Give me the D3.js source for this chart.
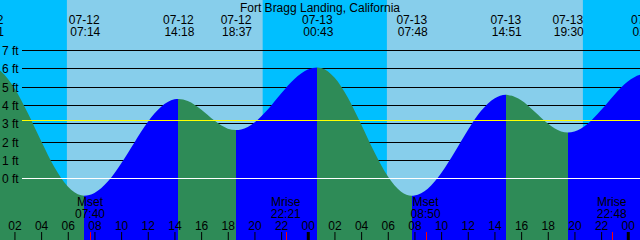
<!DOCTYPE html>
<html>
<head>
<meta charset="utf-8">
<script src="https://cdn.jsdelivr.net/npm/d3@7"></script>
<style>
body { margin: 0; overflow: hidden; background: #fff; }
svg { display: block; }
</style>
</head>
<body>
<svg id="chart"></svg>
<script>
let width = 640;
let height = 240;

// what the graph shows
let station = "Fort Bragg Landing, California";
let windowStart = "2024-07-12 00:55";
let windowEnd = "2024-07-14 00:55";

// highs and lows (ft)
let eventTimes = ["2024-07-12 00:01", "2024-07-12 07:14", "2024-07-12 14:18", "2024-07-12 18:37",
                  "2024-07-13 00:43", "2024-07-13 07:48", "2024-07-13 14:51", "2024-07-13 19:30",
                  "2024-07-14 01:24"];
let eventFeet = [6.15, -0.95, 4.33, 2.63, 6.05, -0.95, 4.56, 2.5, 5.7];

// water level every hour, from 07-12 01:00
let sampleStart = "2024-07-12 01:00";
let sampleFeet = [5.83, 4.91, 3.56, 2.03, 0.60, -0.45, -0.93, -0.80, -0.18, 0.81,
                  1.96, 3.07, 3.90, 4.31, 4.22, 3.76, 3.15, 2.71, 2.66, 3.05,
                  3.76, 4.63, 5.42, 5.94, 6.02, 5.50, 4.41, 2.95, 1.42, 0.11,
                  -0.73, -0.94, -0.57, 0.27, 1.41, 2.62, 3.68, 4.36, 4.55, 4.26,
                  3.65, 2.99, 2.56, 2.56, 2.98, 3.72, 4.56, 5.28, 5.66];

// sun and moon
let sunTimes = ["2024-07-12 05:56", "2024-07-12 20:37", "2024-07-13 05:56", "2024-07-13 20:38"];
let sunKinds = ["rise", "set", "rise", "set"];
let moonTimes = ["2024-07-12 07:40", "2024-07-12 22:21", "2024-07-13 08:50", "2024-07-13 22:48"];
let moonKinds = ["Mset", "Mrise", "Mset", "Mrise"];

// depth grid (ft) and mean sea level
let depthTicks = [0, 1, 2, 3, 4, 5, 6, 7];
let msl = 3.16;

let dayColor = "#87ceeb", nightColor = "#00bfff";
let floodColor = "#0000ff", ebbColor = "#2e8b57";
let datumColor = "#ffffff", mslColor = "#ffff00", markColor = "#ff0000";
let font = "'Liberation Sans', Arial, sans-serif";

let parse = d3.timeParse("%Y-%m-%d %H:%M");

let x = d3.scaleTime()
    .domain([parse(windowStart), parse(windowEnd)])
    .range([0, width]);
let y = d3.scaleLinear()
    .domain([0, 7])
    .range([178.3, 50]);

function crisp(v) {
    return Math.round(v) + 0.5;
}

let svg = d3.select("#chart")
    .attr("width", width)
    .attr("height", height)
    .style("font-family", font)
    .style("font-size", "12px");

// sky: day everywhere, then the nights on top
svg.append("rect")
    .attr("width", width)
    .attr("height", height)
    .attr("fill", dayColor);

let nights = [];
let nightFrom = x.domain()[0];
let lastKind = null;
for (let i = 0; i < sunTimes.length; i = i + 1) {
    let t = parse(sunTimes[i]);
    if (sunKinds[i] == "rise") {
        nights.push([nightFrom, t]);
    } else {
        nightFrom = t;
    }
    lastKind = sunKinds[i];
}
if (lastKind == "set") nights.push([nightFrom, x.domain()[1]]);

svg.append("g")
    .selectAll("rect")
    .data(nights)
    .join("rect")
    .attr("x", d => x(d[0]))
    .attr("width", d => x(d[1]) - x(d[0]))
    .attr("y", 0)
    .attr("height", height)
    .attr("fill", nightColor);

// depth lines sit behind the water
svg.append("g")
    .attr("stroke", "#000")
    .attr("stroke-width", 1)
    .selectAll("line")
    .data(depthTicks.filter(d => d != 0))
    .join("line")
    .attr("x1", 22)
    .attr("x2", width)
    .attr("y1", d => crisp(y(d)))
    .attr("y2", d => crisp(y(d)));

// water level points: hourly samples plus the highs and lows
let points = sampleFeet.map((v, i) => ({t: d3.timeHour.offset(parse(sampleStart), i), ft: v}));
eventTimes.forEach((s, i) => points.push({t: parse(s), ft: eventFeet[i]}));
points.sort((a, b) => a.t - b.t);

let area = d3.area()
    .x(d => x(d.t))
    .y0(height)
    .y1(d => y(d.ft))
    .curve(d3.curveMonotoneX);

svg.append("clipPath")
    .attr("id", "water")
    .append("path")
    .attr("d", area(points));

// rising water blue, falling water green
let spans = [];
for (let i = 0; i < eventTimes.length - 1; i = i + 1) {
    spans.push({
        a: parse(eventTimes[i]),
        b: parse(eventTimes[i + 1]),
        rising: eventFeet[i + 1] > eventFeet[i]
    });
}

svg.append("g")
    .attr("clip-path", "url(#water)")
    .selectAll("rect")
    .data(spans)
    .join("rect")
    .attr("x", d => x(d.a))
    .attr("width", d => x(d.b) - x(d.a))
    .attr("y", 0)
    .attr("height", height)
    .attr("fill", d => d.rising ? floodColor : ebbColor)
    .attr("shape-rendering", "crispEdges");

// mean sea level and datum on top of the water
svg.append("line")
    .attr("x1", 22).attr("x2", width)
    .attr("y1", crisp(y(msl))).attr("y2", crisp(y(msl)))
    .attr("stroke", mslColor);

svg.append("line")
    .attr("x1", 22).attr("x2", width)
    .attr("y1", crisp(y(0))).attr("y2", crisp(y(0)))
    .attr("stroke", datumColor);

// depth labels
svg.append("g")
    .selectAll("text")
    .data(depthTicks)
    .join("text")
    .attr("x", 2)
    .attr("y", d => Math.round(y(d)) + 4.5)
    .attr("fill", "#000")
    .text(d => d + " ft");

// hour axis along the bottom
let axis = d3.axisTop(x)
    .ticks(d3.timeHour.every(2))
    .tickFormat(d3.timeFormat("%H"))
    .tickSizeInner(8)
    .tickSizeOuter(0)
    .tickPadding(2.5);

let gAxis = svg.append("g")
    .attr("transform", `translate(0,${height})`)
    .call(axis)
    .attr("font-family", font)
    .attr("font-size", 12);
gAxis.select(".domain").remove();
gAxis.selectAll(".tick line")
    .attr("stroke", "#000")
    .attr("stroke-width", d => d.getHours() == 0 ? 3 : 1);
gAxis.selectAll(".tick text").attr("fill", "#000");

// moon rise/set marks
let fmtTime = d3.timeFormat("%H:%M");
let fmtDay = d3.timeFormat("%m-%d");

svg.append("g")
    .attr("stroke", markColor)
    .selectAll("line")
    .data(moonTimes)
    .join("line")
    .attr("x1", d => crisp(x(parse(d))))
    .attr("x2", d => crisp(x(parse(d))))
    .attr("y1", 232)
    .attr("y2", height);

let moonText = svg.append("g")
    .attr("text-anchor", "middle")
    .attr("fill", "#000")
    .selectAll("text")
    .data(moonTimes)
    .join("text");
moonText.append("tspan")
    .attr("x", d => x(parse(d)))
    .attr("y", 206)
    .text((d, i) => moonKinds[i]);
moonText.append("tspan")
    .attr("x", d => x(parse(d)))
    .attr("y", 218)
    .text(d => fmtTime(parse(d)));

// title and high/low labels at the top
svg.append("text")
    .attr("x", width / 2)
    .attr("y", 11.5)
    .attr("text-anchor", "middle")
    .attr("fill", "#000")
    .text(station);

let eventText = svg.append("g")
    .attr("text-anchor", "middle")
    .attr("fill", "#000")
    .selectAll("text")
    .data(eventTimes)
    .join("text");
eventText.append("tspan")
    .attr("x", d => x(parse(d)))
    .attr("y", 24)
    .text(d => fmtDay(parse(d)));
eventText.append("tspan")
    .attr("x", d => x(parse(d)) + 1)
    .attr("y", 36)
    .text(d => fmtTime(parse(d)));
</script>
</body>
</html>
